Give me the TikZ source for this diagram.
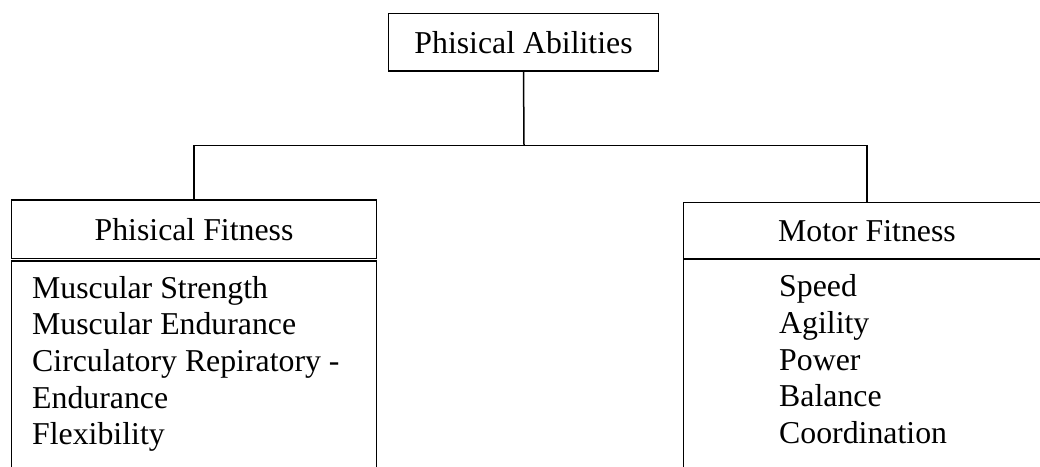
\documentclass[tikz,border=0pt]{standalone}
\usepackage{fontspec}
\setmainfont{Liberation Serif}
\usetikzlibrary{positioning}

\begin{document}
\begin{tikzpicture}[
    x=1pt, y=-1pt,
    box/.style={rectangle, draw, line width=1.5pt, outer sep=0pt, inner sep=0pt, font=\fontsize{31.8}{36.7}\selectfont},
    list/.style={align=left, inner sep=0pt, anchor=base west, font=\fontsize{31.8}{36.7}\selectfont},
    link/.style={line width=1.5pt},
]
    \path[use as bounding box, clip] (0,0) rectangle (1040,466);

    \node[box, minimum width=270pt, minimum height=57.5pt] (abil) at (523.5,42.25) {Phisical Abilities};
    \node[box, minimum width=365pt, minimum height=58.5pt] (pfit) at (194,229.25) {Phisical Fitness};
    \node[box, minimum width=367.4pt, minimum height=56.3pt] (mfit) at (867,230.85) {Motor Fitness};

    \node[box, minimum width=365pt, minimum height=240pt, below=2.5pt of pfit] (pbody) {};
    \node[box, minimum width=367.4pt, minimum height=240pt, below=0pt of mfit] (mbody) {};

    % base anchor sits on the last line
    \node[list] (plist) at (32,444.8) {Muscular Strength\\Muscular Endurance\\Circulatory Repiratory -\\Endurance\\Flexibility};
    \node[list] (mlist) at (779,443.5) {Speed\\Agility\\Power\\Balance\\Coordination};

    \coordinate (split) at (524,145.5);
    \draw[link] (abil.south) -- (split);
    \draw[link] (pfit.north) |- (split) -| (mfit.north);
\end{tikzpicture}
\end{document}
